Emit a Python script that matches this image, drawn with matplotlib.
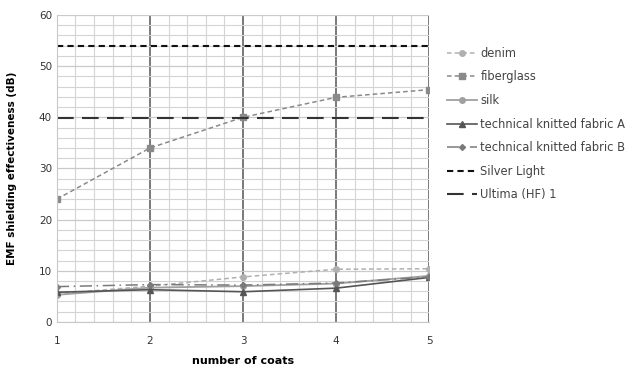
import numpy as np
import matplotlib
matplotlib.use("Agg")
import matplotlib.pyplot as plt
from matplotlib.ticker import MultipleLocator

# data
coats = [1, 2, 3, 4, 5]
denim = [5.5, 7.0, 8.8, 10.3, 10.4]
fiberglass = [24.0, 34.0, 40.0, 43.9, 45.4]
silk = [5.3, 6.7, 7.0, 7.5, 9.0]
tech_a = [5.8, 6.3, 5.9, 6.6, 8.7]
tech_b = [6.9, 7.3, 7.2, 7.6, 8.8]
silver_light = 54.0
ultima = 39.8

fig = plt.figure(figsize=(6.32, 3.65), dpi=100)
ax = fig.add_axes([0.090, 0.118, 0.589, 0.841])

# grid
ax.xaxis.set_minor_locator(MultipleLocator(0.2))
ax.yaxis.set_minor_locator(MultipleLocator(2))
ax.grid(which="minor", color="#d4d4d4", linewidth=0.8)
ax.grid(which="major", axis="y", color="#cacaca", linewidth=0.9)
for c in coats[1:]:
    ax.axvline(c, color="#555555", linewidth=1.1, zorder=1.5)

ax.plot(coats, denim, linestyle=(0, (3, 2)), color="#b0b0b0", marker="o",
        markersize=4, linewidth=1.1, label="denim")
ax.plot(coats, fiberglass, linestyle=(0, (3, 2)), color="#8a8a8a", marker="s",
        markersize=5, linewidth=1.1, label="fiberglass")
ax.plot(coats, silk, linestyle="-", color="#a0a0a0", marker="o",
        markersize=4, linewidth=1.3, label="silk")
ax.plot(coats, tech_a, linestyle="-", color="#555555", marker="^",
        markersize=4, linewidth=1.2, label="technical knitted fabric A")
ax.plot(coats, tech_b, linestyle=(0, (8, 3, 1, 3)), color="#7a7a7a", marker="D",
        markersize=3, linewidth=1.1, label="technical knitted fabric B")
ax.plot([coats[0], coats[-1]], [silver_light] * 2, linestyle=(0, (3, 2)),
        color="#111111", linewidth=1.5, label="Silver Light")
ax.plot([coats[0], coats[-1]], [ultima] * 2, linestyle=(0, (8, 4)),
        color="#333333", linewidth=1.5, label="Ultima (HF) 1")

ax.set_xlim(1, 5)
ax.set_ylim(0, 60)
ax.set_xticks(coats)
ax.set_yticks(range(0, 61, 10))
ax.tick_params(which="both", length=0, labelsize=7.5, colors="#333333")
ax.tick_params(axis="x", pad=10)
for s in ax.spines.values():
    s.set_visible(False)
ax.spines["left"].set_visible(True)
ax.spines["left"].set_color("#c8c8c8")
ax.spines["bottom"].set_visible(True)
ax.spines["bottom"].set_color("#c8c8c8")

ax.set_xlabel("number of coats", fontsize=8, fontweight="bold", labelpad=7)
ax.set_ylabel("EMF shielding effectiveness (dB)", fontsize=7.5, fontweight="bold", labelpad=16)

leg = ax.legend(loc="upper left", bbox_to_anchor=(1.02, 0.93), frameon=False,
                fontsize=8.3, labelspacing=0.92, handlelength=2.6, handletextpad=0.3)
for t in leg.get_texts():
    t.set_color("#444444")

fig.savefig("out.png", dpi=100)
